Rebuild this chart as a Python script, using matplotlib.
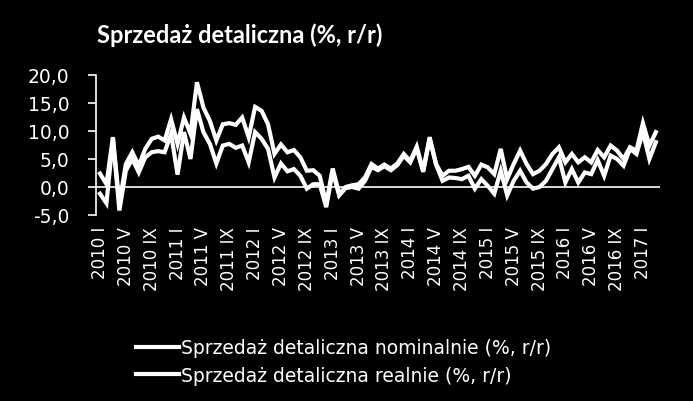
import matplotlib
matplotlib.use("Agg")
import matplotlib.pyplot as plt

# monthly, 2010 I .. 2017 III
roman = ["I", "II", "III", "IV", "V", "VI", "VII", "VIII", "IX", "X", "XI", "XII"]
months = [f"{2010 + k // 12} {roman[k % 12]}" for k in range(87)]

nominal = [2.4, 0.5, 8.9, -3.0, 4.1, 6.2, 3.8, 6.8, 8.6, 9.0, 8.3, 12.1,
           7.7, 12.4, 9.5, 18.7, 14.2, 11.8, 8.3, 11.2, 11.4, 11.1, 12.4, 8.9,
           14.3, 13.6, 11.2, 5.9, 7.6, 6.2, 6.6, 5.3, 2.9, 3.0, 2.0, -3.0,
           3.3, -1.2, 0.0, 0.3, 0.5, 1.7, 4.1, 3.3, 4.0, 3.3, 4.2, 5.9,
           4.6, 7.2, 2.9, 8.9, 4.1, 2.0, 2.9, 2.9, 3.2, 3.6, 2.0, 4.0,
           3.5, 2.3, 6.8, 1.4, 4.1, 6.5, 4.1, 2.3, 2.9, 4.1, 5.9, 7.1,
           4.4, 5.9, 4.4, 5.3, 4.4, 6.6, 5.3, 7.4, 6.5, 5.0, 7.1, 6.5,
           11.4, 7.4, 9.8]
real = [-1.2, -2.9, 8.6, -4.2, 2.9, 5.0, 2.6, 5.3, 6.2, 6.4, 6.2, 9.5,
        2.2, 9.8, 5.0, 13.9, 9.8, 7.7, 4.2, 7.4, 7.7, 7.0, 7.4, 4.4,
        9.8, 8.6, 6.8, 1.7, 4.2, 2.8, 3.2, 2.0, -0.3, 0.5, 0.5, -3.6,
        2.8, -1.5, -0.2, 0.0, -0.3, 1.1, 3.6, 3.0, 3.7, 3.0, 3.9, 5.6,
        4.4, 6.9, 2.7, 8.6, 4.0, 1.1, 1.7, 1.6, 1.4, 2.0, -0.3, 1.4,
        0.2, -1.2, 2.9, -1.5, 1.1, 2.9, 0.8, -0.3, 0.0, 1.1, 3.2, 5.3,
        0.8, 3.2, 0.8, 2.6, 2.3, 4.8, 2.0, 5.6, 5.0, 3.8, 6.8, 5.9,
        9.8, 5.0, 8.0]
yticks = [-5, 0, 5, 10, 15, 20]
ytick_labels = ["-5,0", "0,0", "5,0", "10,0", "15,0", "20,0"]

plt.rcParams['font.family'] = ['DejaVu Sans']

fig = plt.figure(figsize=(6.93, 4.02), dpi=100, facecolor="black")
ax = fig.add_axes([0.1385, 0.4627, 0.8135, 0.3483], facecolor="black")

x = list(range(len(months)))
l1, = ax.plot(x, nominal, color="white", lw=3.0, solid_joinstyle="miter")
l2, = ax.plot(x, real, color="white", lw=3.0, solid_joinstyle="miter")
ax.axhline(0, color="white", lw=1.2)

ax.set_xlim(-0.62, 86.6)
ax.set_ylim(-5, 20)
ax.set_yticks(yticks)
ax.set_yticklabels(ytick_labels)
ax.set_xticks(x[::4])
ax.set_xticklabels(months[::4], rotation=90, va="top", ha="center")

for s in ["top", "right", "bottom"]:
    ax.spines[s].set_visible(False)
ax.spines["left"].set_color("white")
ax.spines["left"].set_linewidth(1.2)
ax.tick_params(axis="y", colors="white", labelsize=13.5, length=6, width=1.2,
               direction="out", pad=13)
ax.tick_params(axis="x", colors="white", labelsize=12, length=0, pad=8)

fig.text(0.14, 0.913, "Sprzedaż detaliczna (%, r/r)", color="white",
         fontsize=17, fontweight="bold", ha="left", va="center",
         family=["Lato", "DejaVu Sans"])

leg = fig.legend([l1, l2], ["Sprzedaż detaliczna nominalnie (%, r/r)",
                            "Sprzedaż detaliczna realnie (%, r/r)"],
                 loc="upper left", bbox_to_anchor=(0.185, 0.175),
                 frameon=False, fontsize=13.5, handlelength=2.3,
                 handletextpad=0.1, labelspacing=0.45, borderaxespad=0)
for t in leg.get_texts():
    t.set_color("white")

fig.savefig("out.png", dpi=100, facecolor="black")
